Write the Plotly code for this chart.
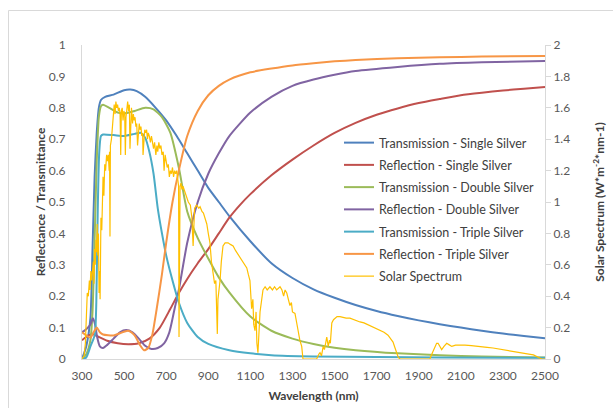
import plotly.graph_objects as go

# ---------------- data ----------------
ts_x = [300, 320, 340, 350, 360, 370, 380, 390, 410, 450, 500, 530, 560, 600, 650, 700, 750, 800, 850, 900, 950, 1000, 1100, 1200, 1300, 1400, 1500, 1600, 1700, 1800, 1900, 2000, 2100, 2200, 2300, 2400, 2500]
ts_y = [0.0, 0.04, 0.13, 0.35, 0.58, 0.72, 0.80, 0.825, 0.835, 0.842, 0.856, 0.858, 0.853, 0.835, 0.80, 0.76, 0.71, 0.655, 0.60, 0.545, 0.50, 0.455, 0.375, 0.305, 0.258, 0.222, 0.195, 0.172, 0.153, 0.137, 0.123, 0.111, 0.100, 0.090, 0.081, 0.073, 0.066]

rs_x = [300, 330, 350, 380, 420, 470, 520, 570, 620, 670, 720, 760, 800, 850, 900, 950, 1000, 1050, 1100, 1200, 1300, 1400, 1500, 1600, 1700, 1800, 1900, 2000, 2100, 2200, 2300, 2400, 2500]
rs_y = [0.06, 0.075, 0.08, 0.07, 0.058, 0.05, 0.047, 0.05, 0.065, 0.10, 0.16, 0.21, 0.255, 0.305, 0.35, 0.40, 0.45, 0.49, 0.525, 0.585, 0.635, 0.68, 0.72, 0.752, 0.778, 0.798, 0.815, 0.828, 0.84, 0.848, 0.855, 0.861, 0.866]

td_x = [300, 320, 340, 350, 360, 370, 380, 390, 400, 430, 470, 500, 550, 600, 640, 680, 720, 760, 800, 850, 900, 950, 1000, 1100, 1200, 1300, 1400, 1500, 1600, 1800, 2000, 2200, 2500]
td_y = [0.0, 0.015, 0.06, 0.15, 0.38, 0.63, 0.77, 0.805, 0.81, 0.80, 0.785, 0.782, 0.79, 0.80, 0.795, 0.77, 0.72, 0.61, 0.47, 0.385, 0.32, 0.26, 0.212, 0.135, 0.09, 0.065, 0.048, 0.036, 0.028, 0.018, 0.012, 0.008, 0.005]

rd_x = [300, 320, 340, 352, 362, 372, 385, 400, 420, 450, 480, 510, 540, 570, 600, 630, 660, 690, 715, 740, 760, 800, 850, 900, 950, 1000, 1100, 1200, 1300, 1400, 1500, 1600, 1800, 2000, 2200, 2500]
rd_y = [0.085, 0.095, 0.11, 0.13, 0.11, 0.07, 0.04, 0.035, 0.045, 0.065, 0.085, 0.092, 0.085, 0.065, 0.042, 0.032, 0.035, 0.05, 0.085, 0.16, 0.22, 0.37, 0.50, 0.59, 0.655, 0.71, 0.785, 0.835, 0.87, 0.89, 0.905, 0.917, 0.93, 0.94, 0.945, 0.949]

tt_x = [300, 320, 340, 355, 362, 368, 375, 382, 390, 400, 450, 500, 550, 580, 600, 620, 640, 660, 680, 700, 730, 760, 800, 850, 900, 1000, 1100, 1200, 1400, 1700, 2000, 2500]
tt_y = [0.0, 0.005, 0.04, 0.065, 0.08, 0.18, 0.48, 0.66, 0.71, 0.715, 0.713, 0.71, 0.717, 0.72, 0.705, 0.66, 0.59, 0.48, 0.40, 0.33, 0.25, 0.18, 0.115, 0.07, 0.048, 0.028, 0.018, 0.012, 0.008, 0.006, 0.005, 0.004]

rt_x = [300, 320, 340, 355, 370, 385, 400, 450, 480, 520, 550, 575, 595, 615, 635, 655, 680, 700, 730, 760, 800, 850, 900, 950, 1000, 1100, 1200, 1300, 1400, 1500, 1600, 1800, 2000, 2200, 2500]
rt_y = [0.085, 0.075, 0.068, 0.085, 0.10, 0.085, 0.078, 0.075, 0.082, 0.09, 0.075, 0.045, 0.028, 0.035, 0.08, 0.16, 0.27, 0.37, 0.50, 0.60, 0.71, 0.79, 0.84, 0.87, 0.89, 0.913, 0.925, 0.935, 0.942, 0.948, 0.952, 0.958, 0.961, 0.963, 0.965]

solar_x = [300, 310, 316, 320, 325, 330, 335, 338, 342, 346, 350, 354, 357, 360, 363, 366, 369, 372, 375, 378, 381, 384, 386, 390,
           394, 397, 400, 404, 408, 412, 417, 421, 425, 429, 431, 433, 435, 440, 445, 449, 453, 457, 461, 465, 469, 473, 477, 481,
           484, 487, 491, 495, 499, 503, 506, 509, 513, 517, 521, 525, 528, 531, 535, 540, 544, 548, 552, 556, 560, 564, 568, 572,
           576, 580, 584, 588, 590, 594, 598, 602, 607, 611, 615, 620, 625, 630, 635, 640, 645, 651, 656, 660, 665, 670, 675, 680,
           686, 690, 695, 700, 705, 710, 715, 720, 725, 730, 735, 740, 745, 750, 755, 759, 761, 763, 766, 770, 775, 780, 790, 797,
           805, 815, 822, 828, 835, 845, 855, 861, 870, 877, 884, 893, 900, 908, 915, 922, 930, 936, 940, 943, 946, 950, 956, 962,
           970, 980, 994, 1005, 1018, 1030, 1040, 1051, 1062, 1072, 1083, 1090, 1098, 1106, 1112, 1116, 1122, 1127, 1131, 1136, 1140, 1146,
           1152, 1160, 1170, 1180, 1193, 1205, 1215, 1225, 1241, 1250, 1258, 1265, 1273, 1280, 1288, 1295, 1300, 1312, 1320, 1327, 1335, 1344,
           1350, 1415, 1425, 1431, 1438, 1446, 1452, 1458, 1463, 1470, 1476, 1480, 1487, 1495, 1502, 1512, 1526, 1540, 1555, 1573, 1590, 1605,
           1621, 1640, 1655, 1668, 1685, 1700, 1716, 1735, 1754, 1765, 1778, 1785, 1795, 1803, 1811, 1953, 1965, 1977, 1985, 1992, 2000, 2009,
           2020, 2033, 2045, 2057, 2075, 2096, 2120, 2150, 2176, 2200, 2225, 2253, 2280, 2300, 2334, 2360, 2380, 2400, 2413, 2430, 2445, 2460,
           2475, 2484, 2500]
solar_y = [0.0, 0.02, 0.1, 0.3, 0.42, 0.4, 0.5, 0.44, 0.56, 0.5, 0.55, 0.62, 0.48, 0.7, 0.6, 0.76, 0.68, 0.86, 0.66, 0.8, 0.42, 0.56, 0.38, 0.9,
           0.82, 1.08, 1.16, 1.04, 1.24, 1.2, 1.3, 1.26, 1.3, 1.2, 1.32, 0.78, 1.36, 1.4, 1.5, 1.58, 1.62, 1.56, 1.64, 1.6, 1.62, 1.58, 1.6, 1.56,
           1.3, 1.58, 1.6, 1.52, 1.58, 1.56, 1.3, 1.54, 1.6, 1.64, 1.58, 1.62, 1.34, 1.56, 1.6, 1.5, 1.56, 1.52, 1.54, 1.48, 1.5, 1.36, 1.48, 1.5,
           1.46, 1.48, 1.42, 1.44, 1.3, 1.42, 1.46, 1.44, 1.46, 1.4, 1.44, 1.42, 1.38, 1.42, 1.38, 1.34, 1.38, 1.3, 1.36, 1.32, 1.38, 1.34, 1.36, 1.3,
           1.32, 1.2, 1.3, 1.26, 1.22, 1.24, 1.16, 1.2, 1.18, 1.22, 1.16, 1.2, 1.18, 1.2, 1.16, 1.1, 0.14, 0.5, 1.1, 1.12, 1.08, 1.1, 1.06, 1.04,
           1.0, 0.98, 0.9, 0.72, 0.96, 0.98, 0.96, 0.97, 0.94, 0.93, 0.9, 0.86, 0.8, 0.74, 0.62, 0.56, 0.48, 0.5, 0.3, 0.16, 0.38, 0.42, 0.5, 0.62,
           0.72, 0.74, 0.74, 0.73, 0.72, 0.69, 0.67, 0.65, 0.62, 0.6, 0.58, 0.54, 0.5, 0.32, 0.38, 0.22, 0.18, 0.3, 0.1, 0.04, 0.2, 0.3,
           0.36, 0.44, 0.46, 0.44, 0.46, 0.44, 0.46, 0.44, 0.46, 0.44, 0.4, 0.44, 0.42, 0.38, 0.34, 0.36, 0.3, 0.29, 0.24, 0.18, 0.12, 0.08,
           0.0, 0.0, 0.03, 0.04, 0.02, 0.08, 0.06, 0.12, 0.14, 0.08, 0.12, 0.1, 0.23, 0.25, 0.26, 0.27, 0.27, 0.265, 0.26, 0.26, 0.25, 0.245,
           0.236, 0.23, 0.22, 0.216, 0.2, 0.19, 0.184, 0.17, 0.152, 0.13, 0.108, 0.08, 0.038, 0.01, 0.0, 0.0, 0.04, 0.078, 0.1, 0.1, 0.08, 0.06,
           0.08, 0.1, 0.09, 0.08, 0.088, 0.09, 0.088, 0.085, 0.08, 0.078, 0.074, 0.07, 0.064, 0.06, 0.054, 0.048, 0.042, 0.04, 0.038, 0.03, 0.026, 0.016,
           0.01, 0.0, 0.0]

x_ticks = list(range(300, 2501, 200))

names = ["Transmission - Single Silver", "Reflection - Single Silver", "Transmission - Double Silver",
         "Reflection - Double Silver", "Transmission - Triple Silver", "Reflection - Triple Silver"]
colors = ["#4F81BD", "#C0504D", "#9BBB59", "#8064A2", "#4BACC6", "#F79646"]
series = [(ts_x, ts_y), (rs_x, rs_y), (td_x, td_y), (rd_x, rd_y), (tt_x, tt_y), (rt_x, rt_y)]

# ---------------- figure ----------------
fig = go.Figure()
for i, ((xs, ys), nm, c) in enumerate(zip(series, names, colors)):
    fig.add_trace(go.Scatter(x=xs, y=ys, name=nm, mode="lines",
                             line=dict(color=c, width=2, shape="spline", smoothing=0.6),
                             legendgroup="g%d" % i))
fig.add_trace(go.Scatter(x=solar_x, y=solar_y, name="Solar Spectrum", mode="lines",
                         line=dict(color="#FFC000", width=1.2), yaxis="y2", legendgroup="g6"))

W, H = 613, 408
L, R, T, B = 82, 68, 45, 49
pw, ph = W - L - R, H - T - B

def px2paper_x(px):
    return (px - L) / pw

def px2paper_y(py):
    return (H - B - py) / ph

font = "Lato, Open Sans, sans-serif"
title_font = dict(size=12, color="#404040", family=font)
fig.update_layout(
    width=W, height=H,
    margin=dict(l=L, r=R, t=T, b=B, autoexpand=False),
    paper_bgcolor="white", plot_bgcolor="white",
    font=dict(family=font, size=12, color="#595959"),
    showlegend=True,
    legend=dict(x=px2paper_x(339), y=px2paper_y(128), xanchor="left", yanchor="top",
                font=dict(size=12.5, color="#404040"), bgcolor="rgba(0,0,0,0)",
                tracegroupgap=3),
    xaxis=dict(range=[300, 2500], tickvals=x_ticks, showgrid=False, zeroline=False, automargin=False,
               showline=True, linecolor="#d9d9d9", linewidth=1, ticks="", ticklabelstandoff=6,
               title=dict(text="<b>Wavelength (nm)</b>", font=title_font, standoff=9)),
    yaxis=dict(range=[0, 1], dtick=0.1, showgrid=False, zeroline=False, automargin=False,
               showline=True, linecolor="#d9d9d9", linewidth=1, ticks="", ticklabelstandoff=13,
               title=dict(text="<b>Reflectance / Transmittance</b>", font=title_font, standoff=0)),
    yaxis2=dict(range=[0, 2], dtick=0.2, overlaying="y", side="right", showgrid=False, zeroline=False, automargin=False,
                showline=True, linecolor="#d9d9d9", linewidth=1, ticks="outside", ticklen=5, tickcolor="#d9d9d9",
                title=dict(text="<b>Solar Spectrum (W*m<sup>-2</sup>*nm-1)</b>", font=title_font, standoff=26)),
)

# chart-area border (light grey)
fig.add_shape(type="line", xref="paper", yref="paper",
              x0=px2paper_x(8.5), x1=px2paper_x(8.5), y0=px2paper_y(10.5), y1=px2paper_y(420),
              line=dict(color="#d9d9d9", width=1))
fig.add_shape(type="line", xref="paper", yref="paper",
              x0=px2paper_x(8.5), x1=px2paper_x(640), y0=px2paper_y(10.5), y1=px2paper_y(10.5),
              line=dict(color="#d9d9d9", width=1))

fig.write_html("out.html")
